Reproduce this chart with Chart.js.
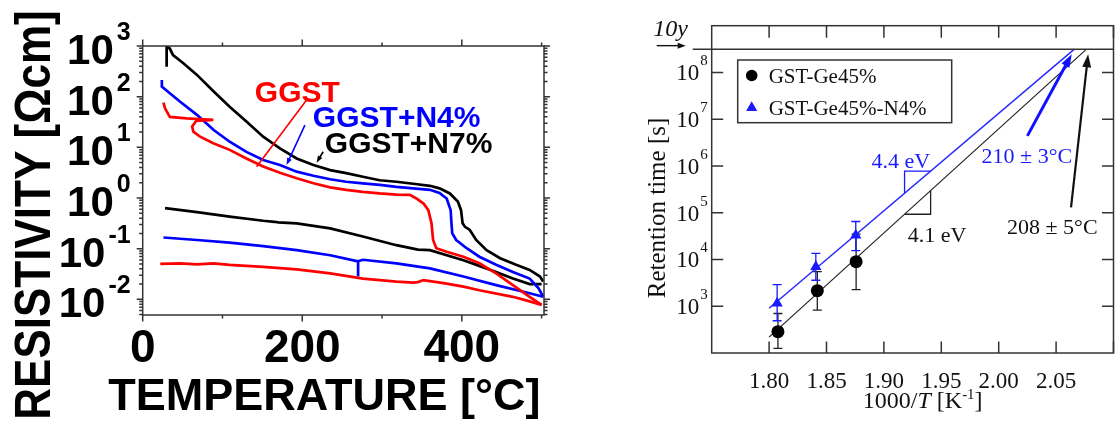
<!DOCTYPE html>
<html>
<head>
<meta charset="utf-8">
<script src="https://cdn.jsdelivr.net/npm/chart.js@4.4.1/dist/chart.umd.min.js"></script>
<style>
  html, body { margin: 0; padding: 0; background: #fff; overflow: hidden; width: 1116px; height: 426px; }
  #c1 { position: absolute; left: 0; top: 0; }
  #c2 { position: absolute; left: 600px; top: 0; }
</style>
</head>
<body>
<canvas id="c1" width="600" height="426"></canvas>
<canvas id="c2" width="520" height="426"></canvas>
<script>
// ===== Left panel: resistivity [Ohm cm] vs temperature [°C] =====
// GGST
const ggstHeatT = [26, 28, 34, 55, 88.5, 67, 62, 63.5, 72, 88.5, 109, 130, 151, 172, 193, 214, 235, 255, 276, 297, 318, 335, 343, 352, 358, 362, 364, 368, 381, 402, 422, 443, 464, 485, 500];
const ggstHeatR = [75.9, 58.9, 39.8, 37.2, 34.7, 33.1, 25.7, 20.4, 16.2, 12.0, 8.91, 6.03, 4.17, 3.16, 2.45, 1.95, 1.62, 1.45, 1.32, 1.23, 1.17, 1.15, 0.977, 0.776, 0.575, 0.316, 0.148, 0.102, 0.0871, 0.0692, 0.0513, 0.0324, 0.0191, 0.0112, 0.00776];
const ggstCoolT = [500, 485, 464, 422, 402, 381, 352, 345, 339, 318, 276, 235, 193, 151, 109, 88.5, 68, 47, 22];
const ggstCoolR = [0.00776, 0.00912, 0.0112, 0.0151, 0.0178, 0.0204, 0.0240, 0.0219, 0.0214, 0.0224, 0.0257, 0.0324, 0.0389, 0.0437, 0.0479, 0.0513, 0.0490, 0.0513, 0.0501];
// GGST+N4%
const n4HeatT = [24, 24, 34, 47, 68, 89, 109, 130, 151, 172, 193, 214, 235, 255, 276, 297, 318, 339, 360, 372, 381, 386, 387, 388, 393, 406, 422, 443, 464, 485, 496, 502];
const n4HeatR = [214, 158, 117, 79.4, 43.7, 21.9, 12.9, 8.13, 5.62, 4.47, 3.31, 2.75, 2.34, 2.09, 1.95, 1.82, 1.66, 1.55, 1.45, 1.26, 0.977, 0.575, 0.316, 0.200, 0.148, 0.102, 0.0692, 0.0479, 0.0347, 0.0257, 0.0166, 0.0112];
const n4CoolT = [502, 485, 443, 402, 360, 318, 276, 270, 270, 270, 235, 193, 151, 109, 68, 26];
const n4CoolR = [0.0112, 0.0132, 0.0191, 0.0282, 0.0407, 0.0513, 0.0603, 0.0562, 0.0282, 0.0562, 0.0741, 0.0933, 0.112, 0.132, 0.148, 0.166];
// GGST+N7%
const n7HeatT = [30, 30, 34, 38, 51, 68, 89, 109, 130, 151, 172, 193, 214, 235, 255, 276, 297, 318, 339, 360, 372, 385, 395, 399, 401, 404, 410, 418, 431, 448, 468, 485, 498, 502];
const n7HeatR = [389, 977, 891, 661, 457, 269, 126, 63.1, 32.4, 16.2, 9.55, 6.03, 4.47, 3.55, 3.09, 2.63, 2.24, 2.09, 1.91, 1.74, 1.55, 1.23, 0.851, 0.575, 0.316, 0.269, 0.234, 0.148, 0.0933, 0.0646, 0.0479, 0.0380, 0.0282, 0.0224];
const n7CoolT = [500, 485, 464, 443, 422, 402, 360, 345, 339, 318, 276, 235, 193, 170, 165, 151, 109, 68, 28];
const n7CoolR = [0.0200, 0.0200, 0.0257, 0.0347, 0.0457, 0.0589, 0.0933, 0.0955, 0.100, 0.117, 0.174, 0.251, 0.316, 0.331, 0.339, 0.355, 0.427, 0.525, 0.631];

const tempMajorTicks = [0, 200, 400];
const tempMinorTicks = [100, 300, 500];
const resDecades = [-2, -1, 0, 1, 2, 3];

// curve labels with their pointer lines (data coordinates)
const curveLabels = [
  { text: 'GGST',     color: '#ff0000', T: 140.6, R: 79.4, from: [205.4, 85.9], to: [142.8, 4.14], head: false },
  { text: 'GGST+N4%', color: '#0000ff', T: 213.3, R: 25.5, from: [203.3, 27.5], to: [180.3, 4.48], head: true },
  { text: 'GGST+N7%', color: '#000000', T: 228.3, R: 7.7,  from: [226.2, 8.18], to: [217.9, 4.97], head: true }
];

// ===== Right panel: retention time vs 1000/T =====
const invTempGe45 = [1.8077, 1.842, 1.8758];
const retGe45     = [286, 2150, 8980];
const retGe45Lo   = [125, 830, 2270];
const retGe45Hi   = [700, 5500, 35000];
const invTempN4   = [1.807, 1.8407, 1.8755];
const retN4       = [1160, 7000, 33000];
const retN4Lo     = [490, 3600, 15500];
const retN4Hi     = [2900, 13500, 65000];
const fitGe45X = [1.80, 2.0765];
const fitGe45Y = [218, 3.15e8];
const fitN4X   = [1.80, 2.0659];
const fitN4Y   = [906, 3.15e8];
const tenYears = 3.15e8;
const invTempTicks = [1.80, 1.85, 1.90, 1.95, 2.00, 2.05, 2.10];
const retDecades = [3, 4, 5, 6, 7, 8];
const retLabels = [
  { text: '4.4 eV',    color: '#1a1aff', x: 1.9147, y: 1.34e6 },
  { text: '4.1 eV',    color: '#111',    x: 1.9464, y: 3.5e4 },
  { text: '210 ± 3°C', color: '#1a1aff', x: 2.0245, y: 1.71e6 },
  { text: '208 ± 5°C', color: '#111',    x: 2.0467, y: 5.2e4 }
];
const retArrows = [
  { color: '#1010ff', lw: 3,   from: [2.025, 4.4e6],  to: [2.0636, 2.45e8] },
  { color: '#111',    lw: 2.2, from: [2.063, 1.3e5],  to: [2.0779, 2.45e8] }
];

const pts = (xs, ys) => xs.map((x, i) => ({ x: x, y: ys[i] }));

function arrowHead(ctx, x0, y0, x1, y1, len, w) {
  const a = Math.atan2(y1 - y0, x1 - x0);
  ctx.beginPath();
  ctx.moveTo(x1, y1);
  ctx.lineTo(x1 - Math.cos(a) * len + Math.sin(a) * w / 2, y1 - Math.sin(a) * len - Math.cos(a) * w / 2);
  ctx.lineTo(x1 - Math.cos(a) * len - Math.sin(a) * w / 2, y1 - Math.sin(a) * len + Math.cos(a) * w / 2);
  ctx.closePath();
  ctx.fill();
}
function arrow(ctx, x0, y0, x1, y1, color, lw, len, w) {
  const a = Math.atan2(y1 - y0, x1 - x0);
  ctx.save();
  ctx.strokeStyle = color; ctx.fillStyle = color; ctx.lineWidth = lw;
  ctx.beginPath();
  ctx.moveTo(x0, y0);
  ctx.lineTo(x1 - Math.cos(a) * len * 0.7, y1 - Math.sin(a) * len * 0.7);
  ctx.stroke();
  arrowHead(ctx, x0, y0, x1, y1, len, w);
  ctx.restore();
}

// ---- left panel decorations: frame, outward ticks, bold labels ----
const leftDecor = {
  id: 'leftDecor',
  afterDatasetsDraw(chart) {
    const ctx = chart.ctx, a = chart.chartArea;
    const xs = chart.scales.x, ys = chart.scales.y;
    ctx.save();
    ctx.strokeStyle = '#333';
    ctx.lineWidth = 1.5;
    ctx.strokeRect(a.left, a.top, a.right - a.left, a.bottom - a.top);
    ctx.beginPath();
    tempMajorTicks.forEach(t => {
      const px = xs.getPixelForValue(t);
      ctx.moveTo(px, a.bottom); ctx.lineTo(px, a.bottom + 6.5);
      ctx.moveTo(px, a.top); ctx.lineTo(px, a.top - 6.5);
    });
    tempMinorTicks.forEach(t => {
      const px = xs.getPixelForValue(t);
      ctx.moveTo(px, a.bottom); ctx.lineTo(px, a.bottom + 3.5);
      ctx.moveTo(px, a.top); ctx.lineTo(px, a.top - 3.5);
    });
    for (let e = -3; e <= 3; e++) {
      for (let m = 1; m <= 9; m++) {
        const v = m * Math.pow(10, e);
        if (v < ys.min * 0.999 || v > ys.max * 1.001) continue;
        const py = ys.getPixelForValue(v);
        const len = m === 1 ? 6 : 3.5;
        ctx.moveTo(a.left, py); ctx.lineTo(a.left - len, py);
        ctx.moveTo(a.right, py); ctx.lineTo(a.right + len, py);
      }
    }
    ctx.stroke();

    // tick labels
    ctx.fillStyle = '#000';
    ctx.textBaseline = 'alphabetic';
    ctx.font = 'bold 46px "Liberation Sans", Arial, sans-serif';
    ctx.textAlign = 'center';
    tempMajorTicks.forEach(t => ctx.fillText(String(t), xs.getPixelForValue(t), a.bottom + 47));
    resDecades.forEach(e => {
      const py = ys.getPixelForValue(Math.pow(10, e));
      const sup = String(e);
      ctx.textAlign = 'right';
      ctx.font = 'bold 25px "Liberation Sans", Arial, sans-serif';
      const supRight = a.left - 12;
      ctx.fillText(sup, supRight, py - 6);
      const sw = ctx.measureText(sup).width;
      ctx.font = 'bold 42px "Liberation Sans", Arial, sans-serif';
      ctx.fillText('10', supRight - sw - 3, py + 18);
    });

    // axis titles
    ctx.textAlign = 'center';
    ctx.font = 'bold 45px "Liberation Sans", Arial, sans-serif';
    ctx.fillText('TEMPERATURE [°C]', (a.left + a.right) / 2 - 19, a.bottom + 95);
    ctx.save();
    ctx.translate(32.5, 215);
    ctx.rotate(-Math.PI / 2);
    ctx.scale(1, 1.12);
    ctx.font = 'bold 44px "Liberation Sans", Arial, sans-serif';
    ctx.fillText('RESISTIVITY [\u03A9cm]', 0, 15.7);
    ctx.restore();

    // curve labels and pointers
    curveLabels.forEach(l => {
      ctx.font = 'bold 30px "Liberation Sans", Arial, sans-serif';
      ctx.textAlign = 'left';
      ctx.fillStyle = l.color;
      ctx.fillText(l.text, xs.getPixelForValue(l.T), ys.getPixelForValue(l.R));
      const x0 = xs.getPixelForValue(l.from[0]), y0 = ys.getPixelForValue(l.from[1]);
      const x1 = xs.getPixelForValue(l.to[0]), y1 = ys.getPixelForValue(l.to[1]);
      if (l.head) {
        arrow(ctx, x0, y0, x1, y1, l.color, 1.6, 7, 5);
      } else {
        ctx.strokeStyle = l.color; ctx.lineWidth = 1.6;
        ctx.beginPath(); ctx.moveTo(x0, y0); ctx.lineTo(x1, y1); ctx.stroke();
      }
    });
    ctx.restore();
  }
};

const curve = (label, xs, ys, color) => ({
  label: label, data: pts(xs, ys), showLine: true, borderColor: color, backgroundColor: color,
  borderWidth: 2.7, pointRadius: 0, tension: 0, fill: false
});

new Chart(document.getElementById('c1'), {
  type: 'scatter',
  data: {
    datasets: [
      curve('GGST', ggstHeatT, ggstHeatR, '#ff0000'),
      curve('GGST cooling', ggstCoolT, ggstCoolR, '#ff0000'),
      curve('GGST+N4%', n4HeatT, n4HeatR, '#0000ff'),
      curve('GGST+N4% cooling', n4CoolT, n4CoolR, '#0000ff'),
      curve('GGST+N7%', n7HeatT, n7HeatR, '#000000'),
      curve('GGST+N7% cooling', n7CoolT, n7CoolR, '#000000')
    ]
  },
  options: {
    responsive: false,
    animation: false,
    layout: { padding: { left: 142.7, right: 56, top: 46, bottom: 111 } },
    plugins: { legend: { display: false }, tooltip: { enabled: false } },
    scales: {
      x: { type: 'linear', min: 0, max: 503, display: false },
      y: { type: 'logarithmic', min: 0.0049, max: 1000, display: false }
    }
  },
  plugins: [leftDecor]
});

// ---- right panel decorations ----
const fitAt = (fx, fy, x) => {
  const l0 = Math.log10(fy[0]), l1 = Math.log10(fy[1]);
  return Math.pow(10, l0 + (l1 - l0) * (x - fx[0]) / (fx[1] - fx[0]));
};

const errorBars = {
  id: 'errorBars',
  beforeDatasetsDraw(chart) {
    const ctx = chart.ctx, xs = chart.scales.x, ys = chart.scales.y;
    const draw = (xv, lo, hi, color) => {
      ctx.strokeStyle = color; ctx.lineWidth = 1.3;
      ctx.beginPath();
      xv.forEach((x, i) => {
        const px = xs.getPixelForValue(x);
        const y0 = ys.getPixelForValue(lo[i]), y1 = ys.getPixelForValue(hi[i]);
        ctx.moveTo(px, y0); ctx.lineTo(px, y1);
        ctx.moveTo(px - 4.5, y0); ctx.lineTo(px + 4.5, y0);
        ctx.moveTo(px - 4.5, y1); ctx.lineTo(px + 4.5, y1);
      });
      ctx.stroke();
    };
    ctx.save();
    draw(invTempGe45, retGe45Lo, retGe45Hi, '#222');
    draw(invTempN4, retN4Lo, retN4Hi, '#1a1aff');
    ctx.restore();
  }
};

const rightDecor = {
  id: 'rightDecor',
  afterDatasetsDraw(chart) {
    const ctx = chart.ctx, a = chart.chartArea;
    const xs = chart.scales.x, ys = chart.scales.y;
    const serif = '"Liberation Serif", "Times New Roman", serif';
    ctx.save();

    // slope triangles
    const xA = 1.918, xB = 1.9407;
    ctx.lineWidth = 1.3;
    ctx.strokeStyle = '#1a1aff';
    ctx.beginPath();
    ctx.moveTo(xs.getPixelForValue(xA), ys.getPixelForValue(fitAt(fitN4X, fitN4Y, xA)));
    ctx.lineTo(xs.getPixelForValue(xA), ys.getPixelForValue(fitAt(fitN4X, fitN4Y, xB)));
    ctx.lineTo(xs.getPixelForValue(xB), ys.getPixelForValue(fitAt(fitN4X, fitN4Y, xB)));
    ctx.stroke();
    ctx.strokeStyle = '#222';
    ctx.beginPath();
    ctx.moveTo(xs.getPixelForValue(xA), ys.getPixelForValue(fitAt(fitGe45X, fitGe45Y, xA)));
    ctx.lineTo(xs.getPixelForValue(xB), ys.getPixelForValue(fitAt(fitGe45X, fitGe45Y, xA)));
    ctx.lineTo(xs.getPixelForValue(xB), ys.getPixelForValue(fitAt(fitGe45X, fitGe45Y, xB)));
    ctx.stroke();

    // frame and inward ticks
    ctx.strokeStyle = '#333';
    ctx.lineWidth = 1.5;
    ctx.strokeRect(a.left, a.top, a.right - a.left, a.bottom - a.top);
    ctx.beginPath();
    invTempTicks.forEach(t => {
      const px = xs.getPixelForValue(t);
      ctx.moveTo(px, a.bottom); ctx.lineTo(px, a.bottom - 11.5);
      ctx.moveTo(px, a.top); ctx.lineTo(px, a.top + 12);
    });
    retDecades.forEach(e => {
      const py = ys.getPixelForValue(Math.pow(10, e));
      ctx.moveTo(a.left, py); ctx.lineTo(a.left + 11.5, py);
      ctx.moveTo(a.right, py); ctx.lineTo(a.right - 11.5, py);
    });
    ctx.stroke();

    // ten-year line, reaching out past the left axis
    const y10 = ys.getPixelForValue(tenYears);
    ctx.beginPath();
    ctx.moveTo(a.left - 19, y10); ctx.lineTo(a.right, y10);
    ctx.stroke();
    arrow(ctx, a.left - 55, y10 - 3.5, a.left - 26, y10 - 3.5, '#111', 1.4, 8, 6);
    ctx.font = 'italic 24px ' + serif;
    ctx.textAlign = 'center';
    ctx.fillStyle = '#111';
    ctx.fillText('10y', a.left - 41, y10 - 13);

    // tick labels
    ctx.font = '23px ' + serif;
    ctx.textAlign = 'center';
    invTempTicks.slice(0, 6).forEach(t => ctx.fillText(t.toFixed(2), xs.getPixelForValue(t), a.bottom + 35));
    retDecades.forEach(e => {
      const py = ys.getPixelForValue(Math.pow(10, e));
      ctx.textAlign = 'left';
      ctx.font = '15px ' + serif;
      ctx.fillText(String(e), a.left - 11.5, py - 7);
      ctx.textAlign = 'right';
      ctx.font = '23px ' + serif;
      ctx.fillText('10', a.left - 12.5, py + 8);
    });

    // axis titles
    const parts = [
      { t: '1000/', f: '24px ' + serif, dy: 0 },
      { t: 'T', f: 'italic 24px ' + serif, dy: 0 },
      { t: ' [K', f: '24px ' + serif, dy: 0 },
      { t: '-1', f: '15px ' + serif, dy: -9 },
      { t: ']', f: '24px ' + serif, dy: 0 }
    ];
    let total = 0;
    parts.forEach(p => { ctx.font = p.f; p.w = ctx.measureText(p.t).width; total += p.w; });
    let cx = a.left + 211 - total / 2;
    ctx.textAlign = 'left';
    parts.forEach(p => { ctx.font = p.f; ctx.fillText(p.t, cx, a.bottom + 55 + p.dy); cx += p.w; });
    ctx.save();
    ctx.translate(a.left - 55, 208);
    ctx.rotate(-Math.PI / 2);
    ctx.font = '25px ' + serif;
    ctx.textAlign = 'center';
    ctx.fillText('Retention time [s]', 0, 8);
    ctx.restore();

    // annotations
    ctx.font = '22px ' + serif;
    ctx.textAlign = 'center';
    retLabels.forEach(l => {
      ctx.fillStyle = l.color;
      ctx.fillText(l.text, xs.getPixelForValue(l.x), ys.getPixelForValue(l.y) + 7.5);
    });
    retArrows.forEach(r => {
      arrow(ctx, xs.getPixelForValue(r.from[0]), ys.getPixelForValue(r.from[1]),
            xs.getPixelForValue(r.to[0]), ys.getPixelForValue(r.to[1]), r.color, r.lw, 13, 9);
    });

    // legend box
    const lx = a.left + 26, ly = a.top + 34.3, lw = 214, lh = 62.7;
    ctx.fillStyle = '#fff';
    ctx.fillRect(lx, ly, lw, lh);
    ctx.strokeStyle = '#333';
    ctx.lineWidth = 1.5;
    ctx.strokeRect(lx, ly, lw, lh);
    ctx.font = '21px ' + serif;
    ctx.textAlign = 'left';
    chart.data.datasets.filter(d => d.inLegend).forEach((d, i) => {
      const cyy = ly + 15.5 + i * 32.3;
      ctx.fillStyle = d.backgroundColor;
      ctx.beginPath();
      if (d.pointStyle === 'triangle') {
        ctx.moveTo(lx + 14, cyy - 6.5);
        ctx.lineTo(lx + 19.6, cyy + 3.3);
        ctx.lineTo(lx + 8.4, cyy + 3.3);
        ctx.closePath();
      } else {
        ctx.arc(lx + 14, cyy, 5.8, 0, Math.PI * 2);
      }
      ctx.fill();
      ctx.fillStyle = '#111';
      ctx.fillText(d.label, lx + 31, cyy + 7.5);
    });
    ctx.restore();
  }
};

new Chart(document.getElementById('c2'), {
  type: 'scatter',
  data: {
    datasets: [
      { label: 'GST-Ge45%', inLegend: true, data: pts(invTempGe45, retGe45), pointStyle: 'circle',
        pointRadius: 6.5, backgroundColor: '#000', borderColor: '#000', borderWidth: 0, order: 1 },
      { label: 'GST-Ge45%-N4%', inLegend: true, data: pts(invTempN4, retN4), pointStyle: 'triangle',
        pointRadius: 6.5, backgroundColor: '#1a1aff', borderColor: '#1a1aff', borderWidth: 0, order: 0 },
      { label: 'fit Ge45%', data: pts(fitGe45X, fitGe45Y), showLine: true, pointRadius: 0,
        borderColor: '#222', borderWidth: 1.2, order: 3 },
      { label: 'fit N4%', data: pts(fitN4X, fitN4Y), showLine: true, pointRadius: 0,
        borderColor: '#2a2aff', borderWidth: 1.5, order: 2 }
    ]
  },
  options: {
    responsive: false,
    animation: false,
    layout: { padding: { left: 111.7, right: 2.4, top: 25.7, bottom: 73 } },
    plugins: { legend: { display: false }, tooltip: { enabled: false } },
    scales: {
      x: { type: 'linear', min: 1.75, max: 2.10, display: false },
      y: { type: 'logarithmic', min: 100, max: 1e9, display: false }
    }
  },
  plugins: [errorBars, rightDecor]
});
</script>
</body>
</html>
